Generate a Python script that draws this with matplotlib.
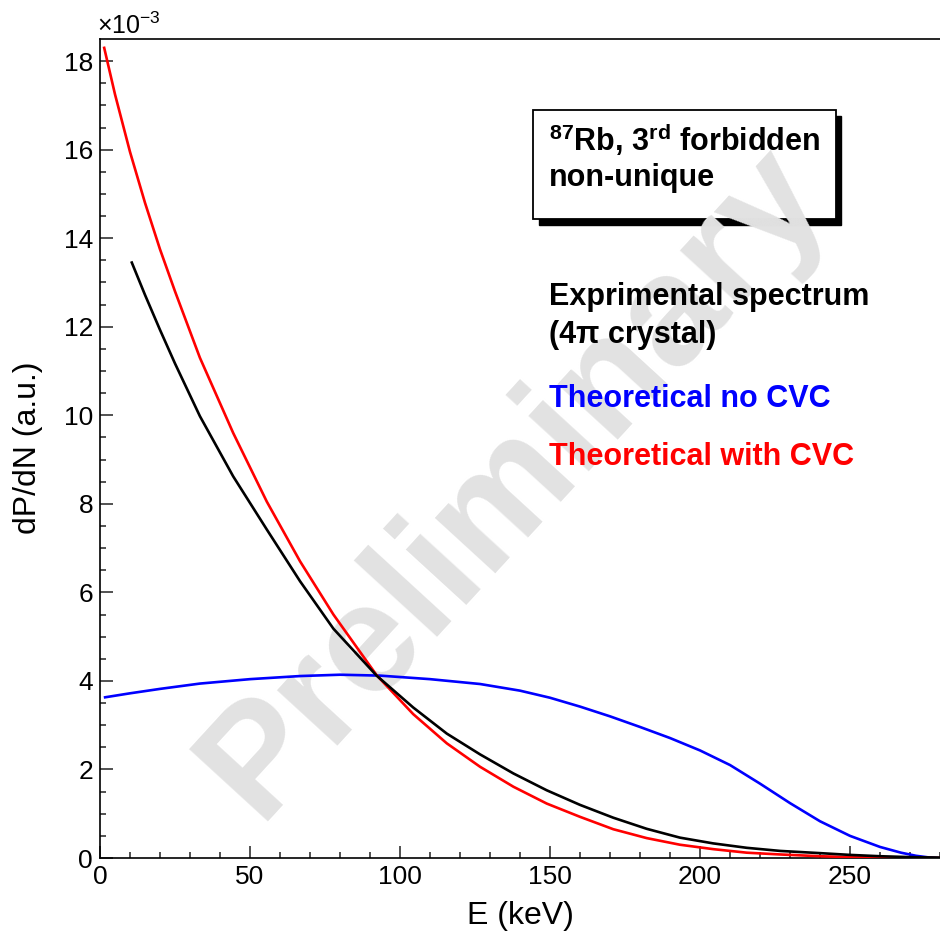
"""Rb-87 beta spectrum: measured shape vs. theory with and without CVC."""

import matplotlib
matplotlib.use("Agg")
import matplotlib.pyplot as plt
from matplotlib.patches import Rectangle

plt.rcParams["font.family"] = ["Liberation Sans", "DejaVu Sans"]
plt.rcParams["mathtext.default"] = "regular"

W, H = 940, 938

# energies in keV, dP/dN in units of 1e-3
exp_energy = [10.6, 15, 20, 25, 33.3, 44.4, 55.6, 66.7, 77.8, 92.2, 104.4, 115.6,
              126.7, 137.8, 148.9, 160, 171.1, 182.2, 193.3, 204.4, 215.6, 226.7,
              240, 250, 260, 270, 280]
exp_dpdn = [13.45, 12.72, 11.93, 11.17, 9.98, 8.62, 7.42, 6.25, 5.18, 4.12, 3.40, 2.81,
            2.34, 1.91, 1.53, 1.20, 0.91, 0.66, 0.46, 0.33, 0.23, 0.16,
            0.11, 0.07, 0.04, 0.02, 0.01]

cvc_energy = [1.4, 5, 10, 15, 20, 25, 33.3, 44.4, 55.6, 66.7, 77.8, 92.2, 104.4,
              115.6, 126.7, 137.8, 148.9, 160, 171.1, 182.2, 193.3, 204.4, 215.6,
              226.7, 240, 250, 260, 270, 280]
cvc_dpdn = [18.30, 17.25, 15.95, 14.8, 13.75, 12.8, 11.3, 9.6, 8.05, 6.7, 5.5, 4.13, 3.25,
            2.59, 2.06, 1.61, 1.23, 0.93, 0.65, 0.45, 0.30, 0.20, 0.12,
            0.08, 0.04, 0.02, 0.01, 0.003, 0.0]

nocvc_energy = [1.7, 10, 20, 33.3, 50, 66.7, 80, 93.3, 110, 126.7, 140, 150, 160, 170,
                180, 190, 200, 210, 220, 230, 240, 250, 260, 267, 272, 276, 279]
nocvc_dpdn = [3.63, 3.72, 3.82, 3.94, 4.04, 4.11, 4.14, 4.12, 4.04, 3.93, 3.78, 3.62, 3.42, 3.20,
              2.96, 2.71, 2.43, 2.10, 1.68, 1.24, 0.83, 0.50, 0.25, 0.12, 0.05, 0.015, 0.0]

x_ticks = [0, 50, 100, 150, 200, 250]
y_ticks = [0, 2, 4, 6, 8, 10, 12, 14, 16, 18]


def fig_xy(px, py):
    """Pixel position in the 940x938 canvas -> figure fraction."""
    return px / W, 1 - py / H


fig = plt.figure(figsize=(W / 100, H / 100), dpi=100, facecolor="white")
ax = fig.add_axes([100 / W, 1 - 858 / H, 840 / W, (858 - 39) / H])

# label box with drop shadow, under the watermark
shadow = Rectangle(fig_xy(539, 225), 302 / W, 109 / H, transform=fig.transFigure,
                   facecolor="black", edgecolor="black", lw=1, zorder=0.4, clip_on=False)
box = Rectangle(fig_xy(533, 219), 303 / W, 109 / H, transform=fig.transFigure,
                facecolor="white", edgecolor="black", lw=1.3, zorder=0.5, clip_on=False)
ax.add_patch(shadow)
ax.add_patch(box)

ax.text(*fig_xy(514, 482), "Preliminary", transform=fig.transFigure, rotation=47.5,
        ha="center", va="center", fontsize=112, fontweight="bold", color="#e2e2e2",
        zorder=1, clip_on=False)

ax.plot(nocvc_energy, nocvc_dpdn, color="#0000ff", lw=1.9, zorder=3)
ax.plot(exp_energy, exp_dpdn, color="black", lw=1.9, zorder=4)
ax.plot(cvc_energy, cvc_dpdn, color="#ff0000", lw=1.9, zorder=3)

ax.set_xlim(0, 280)
ax.set_ylim(0, 18.5)
ax.set_xticks(x_ticks, labels=[str(t) for t in x_ticks])
ax.set_yticks(y_ticks, labels=[str(t) for t in y_ticks])
ax.set_xticks(range(0, 281, 10), minor=True)
ax.set_yticks([v / 2 for v in range(0, 37)], minor=True)
ax.tick_params(which="both", direction="in", width=1.1, color="#222222",
               labelsize=19, top=False, right=False, pad=5)
ax.tick_params(which="major", length=9)
ax.tick_params(which="minor", length=4.6)
ax.spines["right"].set_visible(False)
for side in ("left", "bottom", "top"):
    ax.spines[side].set_linewidth(1.2)

fig.text(*fig_xy(97, 34), r"$\times10^{-3}$", fontsize=18, ha="left", va="baseline")
fig.text(*fig_xy(520, 916), "E (keV)", fontsize=23, ha="center", va="center")
fig.text(*fig_xy(28, 448), "dP/dN (a.u.)", fontsize=23, rotation=90,
         ha="center", va="center")

bold = dict(fontsize=22, fontweight="bold", ha="left", va="baseline", zorder=7)
ax.text(*fig_xy(549, 151), r"$^{87}$Rb, 3$^{rd}$ forbidden", transform=fig.transFigure, **bold)
ax.text(*fig_xy(549, 186), "non-unique", transform=fig.transFigure, **bold)

ax.text(*fig_xy(549, 305), "Exprimental spectrum", transform=fig.transFigure,
        color="black", **bold)
ax.text(*fig_xy(549, 343), "(4π crystal)", transform=fig.transFigure,
        color="black", **bold)
ax.text(*fig_xy(549, 407), "Theoretical no CVC", transform=fig.transFigure,
        color="#0000ff", **bold)
ax.text(*fig_xy(549, 465), "Theoretical with CVC", transform=fig.transFigure,
        color="#ff0000", **bold)

fig.savefig("out.png", dpi=100, facecolor="white")
